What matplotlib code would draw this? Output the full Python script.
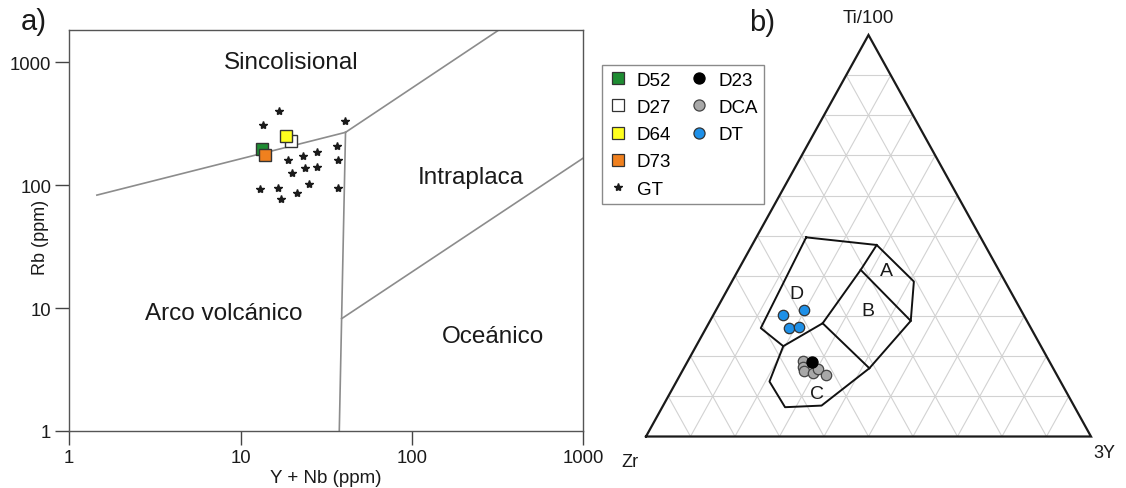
import matplotlib
matplotlib.use("Agg")
import matplotlib.pyplot as plt
from matplotlib.lines import Line2D

plt.rcParams['font.family'] = ['Liberation Sans', 'DejaVu Sans']

# ---------------- Panel a: Rb vs Y+Nb ----------------
gt_ynb = [16.8, 13.5, 40.9, 36.4, 28.0, 23.0, 18.8, 36.9, 23.8, 28.0,
          19.9, 25.2, 16.5, 13.0, 21.3, 17.2, 37.2]
gt_rb = [402, 309, 333, 208, 187, 172, 160, 159, 137, 141,
         126, 102, 94, 93, 86, 77, 95]

sample_names = ['D52', 'D27', 'D64', 'D73']
sample_ynb = [13.3, 19.7, 18.4, 13.9]
sample_rb = [197, 229, 253, 177]
sample_colors = ['#1e8c32', '#ffffff', '#ffff1e', '#f0801e']

# discrimination boundaries (Y+Nb, Rb)
bound_syncol_vag = ([1.45, 41.0], [83, 269])
bound_syncol_wpg = ([41.0, 322], [269, 1830])
bound_vag_wpg = ([41.0, 38.9, 37.7], [269, 8.2, 1])
bound_wpg_org = ([38.9, 1000], [8.2, 166])

field_names_a = ['Sincolisional', 'Intraplaca', 'Arco volcánico', 'Oceánico']
field_x_a = [19.7, 221, 7.93, 299]
field_y_a = [998, 117, 9.07, 5.95]

tick_vals = [1, 10, 100, 1000]
tick_labels = ['1', '10', '100', '1000']

# ---------------- Panel b: Ti/100 - Zr - 3Y ----------------
# compositions as fractions (Ti/100, Zr, 3Y)
dt_ti = [0.303, 0.315, 0.270, 0.272]
dt_y = [0.156, 0.198, 0.187, 0.208]
dca_ti = [0.188, 0.173, 0.162, 0.158, 0.168, 0.153]
dca_y = [0.258, 0.266, 0.275, 0.296, 0.302, 0.328]
d23_ti = [0.186]
d23_y = [0.281]

# field outline vertices (Ti, Y)
outline_ti = [0.496, 0.477, 0.386, 0.288, 0.170, 0.077, 0.073, 0.137, 0.225, 0.270, 0.496]
outline_y = [0.112, 0.280, 0.409, 0.451, 0.417, 0.356, 0.276, 0.209, 0.196, 0.123, 0.112]
# inner boundaries
ab_ti, ab_y = [0.415, 0.288], [0.275, 0.451]
bd_ti, bd_y = [0.477, 0.415, 0.282], [0.280, 0.275, 0.256]
dc_ti, dc_y = [0.225, 0.282], [0.196, 0.256]
bc_ti, bc_y = [0.282, 0.170], [0.256, 0.417]

field_names_b = ['A', 'B', 'C', 'D']
field_ti_b = [0.413, 0.313, 0.106, 0.355]
field_y_b = [0.334, 0.343, 0.331, 0.160]


def tern_xy(ti, y):
    """Ternary (Ti, Y) fractions -> cartesian; Zr at (0,0), 3Y at (1,0), Ti at apex."""
    xs = [yy + t / 2 for t, yy in zip(ti, y)]
    return xs, list(ti)


fig = plt.figure(figsize=(11.26, 4.89), dpi=100)

# ---- panel a ----
ax = fig.add_axes([0.0615, 0.1166, 0.4564, 0.8200])
ax.set_xscale('log')
ax.set_yscale('log')
ax.set_xlim(1, 1000)
ax.set_ylim(1, 1830)

line_kw = dict(color='#8c8c8c', lw=1.2, zorder=2)
for bx, by in (bound_syncol_vag, bound_syncol_wpg, bound_vag_wpg, bound_wpg_org):
    ax.plot(bx, by, **line_kw)

ax.plot(gt_ynb, gt_rb, linestyle='none', marker='*', ms=6, color='#1a1a1a', zorder=3)
for xv, yv, c in zip(sample_ynb, sample_rb, sample_colors):
    ax.plot([xv], [yv], linestyle='none', marker='s', ms=9, mfc=c, mec='#333333',
            mew=1.0, zorder=4)

for name, fx, fy in zip(field_names_a, field_x_a, field_y_a):
    ax.text(fx, fy, name, fontsize=17.5, ha='center', va='center', color='#1a1a1a')

ax.set_xticks(tick_vals)
ax.set_xticklabels(tick_labels)
ax.set_yticks(tick_vals)
ax.set_yticklabels(tick_labels)
ax.minorticks_off()
ax.tick_params(axis='both', length=10, width=1.0, color='#444444',
               labelsize=13.3, labelcolor='#1a1a1a', pad=3)
for sp in ax.spines.values():
    sp.set_color('#555555')
    sp.set_linewidth(1.0)
ax.set_xlabel('Y + Nb (ppm)', fontsize=13.5, color='#1a1a1a', labelpad=2)
ax.set_ylabel('Rb (ppm)', fontsize=13, color='#1a1a1a')
ax.yaxis.set_label_coords(-0.040, 0.484)

fig.text(0.0296, 0.9556, 'a)', fontsize=21, ha='center', va='center', color='#1a1a1a')

# ---- panel b ----
tx = fig.add_axes([0.5737, 0.1053, 0.3952, 0.8211])
tx.set_xlim(0, 1)
tx.set_ylim(0, 1)
tx.axis('off')

grid_kw = dict(color='#d2d2d2', lw=0.8, zorder=1)
for k in range(1, 10):
    f = k / 10
    gx, gy = tern_xy([f, f], [0, 1 - f])          # constant Ti
    tx.plot(gx, gy, **grid_kw)
    gx, gy = tern_xy([0, 1 - f], [f, f])          # constant 3Y
    tx.plot(gx, gy, **grid_kw)
    gx, gy = tern_xy([0, 1 - f], [1 - f, 0])      # constant Zr
    tx.plot(gx, gy, **grid_kw)

tx.plot([0, 1, 0.5, 0], [0, 0, 1, 0], color='#1a1a1a', lw=1.6, zorder=2,
        solid_joinstyle='miter', clip_on=False)

fb_kw = dict(color='#111111', lw=1.4, zorder=3)
for fti, fy in ((outline_ti, outline_y), (ab_ti, ab_y), (bd_ti, bd_y),
                (dc_ti, dc_y), (bc_ti, bc_y)):
    px, py = tern_xy(fti, fy)
    tx.plot(px, py, **fb_kw)

for name, fti, fy in zip(field_names_b, field_ti_b, field_y_b):
    px, py = tern_xy([fti], [fy])
    tx.text(px[0], py[0], name, fontsize=14, ha='center', va='center', color='#1a1a1a')

px, py = tern_xy(dt_ti, dt_y)
tx.plot(px, py, linestyle='none', marker='o', ms=7.5, mfc='#1e90e8', mec='#333333',
        mew=0.9, zorder=4)
px, py = tern_xy(dca_ti, dca_y)
tx.plot(px, py, linestyle='none', marker='o', ms=7.5, mfc='#a8a8a8', mec='#444444',
        mew=0.9, zorder=4)
px, py = tern_xy(d23_ti, d23_y)
tx.plot(px, py, linestyle='none', marker='o', ms=8, mfc='#000000', mec='#000000',
        mew=0.9, zorder=5)

tx.text(0.5, 1.044, 'Ti/100', fontsize=13.5, ha='center', va='center', color='#1a1a1a')
tx.text(1.031, -0.039, '3Y', fontsize=13, ha='center', va='center', color='#1a1a1a')
tx.text(-0.036, -0.061, 'Zr', fontsize=13, ha='center', va='center', color='#1a1a1a')

fig.text(0.6765, 0.9524, 'b)', fontsize=21, ha='center', va='center', color='#1a1a1a')

# ---- shared legend ----
def sq(c):
    return Line2D([], [], linestyle='none', marker='s', ms=8, mfc=c, mec='#333333', mew=0.9)


def circ(c, ec):
    return Line2D([], [], linestyle='none', marker='o', ms=8, mfc=c, mec=ec, mew=0.9)


blank = Line2D([], [], linestyle='none')
handles = [sq(c) for c in sample_colors] + [
    Line2D([], [], linestyle='none', marker='*', ms=6, color='#1a1a1a'),
    circ('#000000', '#000000'), circ('#a8a8a8', '#444444'), circ('#1e90e8', '#333333'),
    blank, blank]
labels = sample_names + ['GT', 'D23', 'DCA', 'DT', '', '']
leg = fig.legend(handles, labels, ncol=2, loc='upper left',
                 bbox_to_anchor=(0.5346, 0.865), bbox_transform=fig.transFigure,
                 fontsize=13.5, frameon=True, fancybox=False, framealpha=1,
                 edgecolor='#8a8a8a', borderpad=0.35, labelspacing=0.54,
                 handlelength=1.0, handletextpad=0.5, columnspacing=1.0,
                 borderaxespad=0)
leg.get_frame().set_linewidth(1.0)

fig.savefig('out.png', dpi=100)
